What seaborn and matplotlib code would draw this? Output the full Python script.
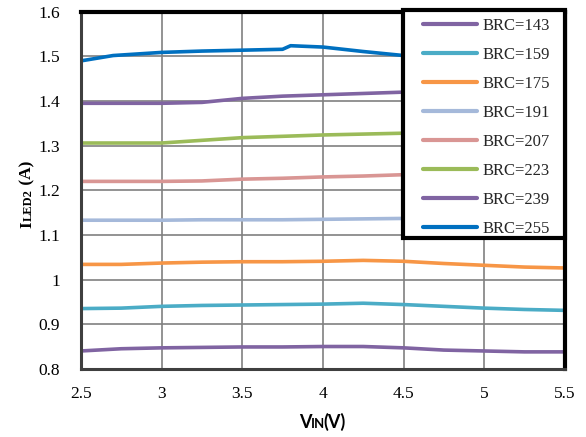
import numpy as np
import matplotlib
matplotlib.use("Agg")
import matplotlib.pyplot as plt
from matplotlib.patches import Rectangle
import seaborn as sns

# VIN (V) sample points
VIN = [2.5, 2.75, 3.0, 3.25, 3.5, 3.75, 4.0, 4.25, 4.5, 4.75, 5.0, 5.25, 5.5]
VIN_255 = [2.5, 2.7, 3.0, 3.25, 3.5, 3.75, 3.8, 4.0, 4.25, 4.5, 4.75, 5.0, 5.25, 5.5]

# ILED2 (A) per BRC code
I_143 = [0.840, 0.845, 0.847, 0.848, 0.849, 0.849, 0.850, 0.850, 0.847, 0.842, 0.840, 0.838, 0.838]
I_159 = [0.935, 0.936, 0.940, 0.942, 0.943, 0.944, 0.945, 0.947, 0.944, 0.940, 0.936, 0.933, 0.931]
I_175 = [1.034, 1.034, 1.037, 1.039, 1.040, 1.040, 1.041, 1.043, 1.041, 1.036, 1.032, 1.028, 1.026]
I_191 = [1.133, 1.133, 1.133, 1.134, 1.134, 1.134, 1.135, 1.136, 1.137, 1.137, 1.137, 1.137, 1.137]
I_207 = [1.220, 1.220, 1.220, 1.221, 1.225, 1.227, 1.230, 1.232, 1.235, 1.236, 1.237, 1.238, 1.238]
I_223 = [1.306, 1.306, 1.306, 1.312, 1.318, 1.321, 1.324, 1.326, 1.328, 1.329, 1.330, 1.331, 1.331]
I_239 = [1.395, 1.395, 1.395, 1.397, 1.406, 1.411, 1.414, 1.417, 1.420, 1.421, 1.422, 1.423, 1.423]
I_255 = [1.490, 1.502, 1.509, 1.512, 1.514, 1.516, 1.524, 1.521, 1.511, 1.502, 1.498, 1.495, 1.493, 1.492]

BRC = [143, 159, 175, 191, 207, 223, 239, 255]
COLORS = ["#8064A2", "#4BACC6", "#F79646", "#A5B9DA",
          "#D99694", "#9BBB59", "#8064A2", "#0070C0"]

X_TICKS = [2.5, 3.0, 3.5, 4.0, 4.5, 5.0, 5.5]
X_TICK_LABELS = ["2.5", "3", "3.5", "4", "4.5", "5", "5.5"]
Y_TICKS = [0.8, 0.9, 1.0, 1.1, 1.2, 1.3, 1.4, 1.5, 1.6]
Y_TICK_LABELS = ["0.8", "0.9", "1", "1.1", "1.2", "1.3", "1.4", "1.5", "1.6"]


def piece_label(fig, pieces, cx, cy, family, rotation=0, squeeze=0.0):
    """Place a label made of differently sized pieces, centred on (cx, cy)."""
    r = fig.canvas.get_renderer()
    W, H = fig.bbox.width, fig.bbox.height
    texts, sizes = [], []
    for s, fs in pieces:
        t = fig.text(0, 0, s, fontsize=fs, fontweight="bold", family=family,
                     rotation=rotation, rotation_mode="anchor",
                     ha="left", va="baseline", color="black")
        bb = t.get_window_extent(r)
        px = (bb.width if rotation == 0 else bb.height) - squeeze
        sizes.append(px / (W if rotation == 0 else H))
        texts.append(t)
    start = (cx if rotation == 0 else cy) - sum(sizes) / 2
    for t, d in zip(texts, sizes):
        t.set_position((start, cy) if rotation == 0 else (cx, start))
        start += d


sns.set_theme(style="whitegrid")
plt.rcParams["font.family"] = ["Liberation Serif", "DejaVu Serif"]

fig, ax = plt.subplots(figsize=(5.86, 4.37), dpi=100)
fig.subplots_adjust(left=0.138, right=0.964, top=0.973, bottom=0.156)

series = [I_143, I_159, I_175, I_191, I_207, I_223, I_239, I_255]
for brc, ys, col in zip(BRC, series, COLORS):
    xs = VIN_255 if brc == 255 else VIN
    sns.lineplot(x=xs, y=ys, ax=ax, color=col, lw=2.6,
                 label=f"BRC={brc}", zorder=3)

ax.set_xticks(X_TICKS)
ax.set_xticklabels(X_TICK_LABELS)
ax.set_yticks(Y_TICKS)
ax.set_yticklabels(Y_TICK_LABELS)
ax.tick_params(axis="both", labelsize=12.5, labelcolor="black", length=4.5,
               width=1.2, direction="out", color="#7f7f7f")
ax.tick_params(axis="y", pad=10.5)
ax.tick_params(axis="x", pad=8)
ax.grid(True, color="#808080", lw=1.2)
ax.set_facecolor("white")

for side in ["left", "bottom"]:
    ax.spines[side].set_color("#3f3f3f")
    ax.spines[side].set_linewidth(2.2)
for side in ["top", "right"]:
    ax.spines[side].set_color("black")
    ax.spines[side].set_linewidth(3)
for sp in ax.spines.values():
    sp.set_zorder(4)

# legend sits in a white box over the top-right corner
box = Rectangle((0.665, 0.367), 0.335, 0.639, transform=ax.transAxes,
                facecolor="white", edgecolor="black", lw=3, zorder=5,
                clip_on=False)
ax.add_patch(box)
leg = ax.legend(loc="upper left", bbox_to_anchor=(0.7066, 0.983),
                frameon=False, fontsize=12, handlelength=3.25,
                handletextpad=0.3, labelspacing=0.78, borderpad=0,
                borderaxespad=0)
leg.set_zorder(6)
for line in leg.get_lines():
    line.set_linewidth(3)

ax.set_xlim(2.5, 5.5)
ax.set_ylim(0.8, 1.6)

piece_label(fig, [("V", 13), ("IN", 9.5), ("(V)", 13)],
            0.549, 0.02, ["Lato", "DejaVu Sans"], squeeze=1.5)
piece_label(fig, [("I", 12.5), ("LED2", 9), (" (A)", 12.5)],
            0.054, 0.555, ["Liberation Serif", "DejaVu Serif"], rotation=90)

fig.savefig("out.png", dpi=100)
